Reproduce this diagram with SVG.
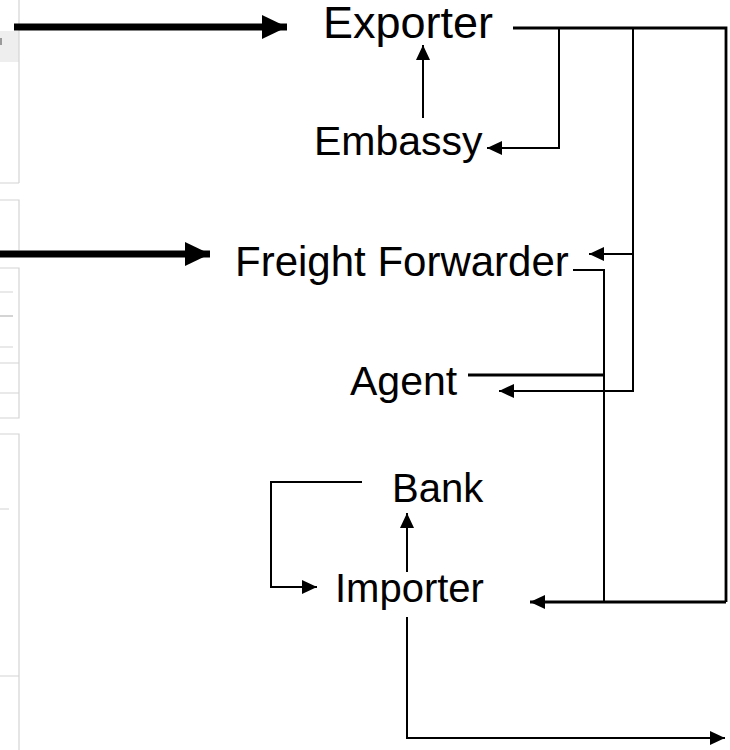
<svg xmlns="http://www.w3.org/2000/svg" width="730" height="750" viewBox="0 0 730 750">
<defs>
<style>
.lbl{font-family:"Liberation Sans",Arial,sans-serif;font-size:41px;fill:#000}
.c{fill:none;stroke:#000;stroke-width:2}
.c3{fill:none;stroke:#000;stroke-width:2.8}
.thick{fill:none;stroke:#000;stroke-width:7}
.ui{fill:none;stroke:#d4d4d4;stroke-width:1.2}
</style>
<marker id="ah" markerUnits="userSpaceOnUse" markerWidth="15" markerHeight="14" refX="15" refY="7" orient="auto">
<path d="M0,0 L15,7 L0,14 z" fill="#000"/>
</marker>
<marker id="bh" markerUnits="userSpaceOnUse" markerWidth="25" markerHeight="24" refX="25" refY="12" orient="auto">
<path d="M0,0 L25,12 L0,24 z" fill="#000"/>
</marker>
</defs>
<rect width="730" height="750" fill="#fff"/>
<g id="ui-remnants">
<rect x="0" y="31" width="19" height="31" fill="#eeeeee"/>
<rect x="0" y="38" width="2" height="7" fill="#9a9a9a"/>
<path class="ui" d="M19,0 V183 M0,183 H19 M0,200 H19 V250 M0,268 H19 V418 H0 M0,363 H19 M0,393 H19 M0,434 H19 V750 M0,676 H19"/>
<path class="ui" d="M0,292 H13 M0,347 H13 M0,509 H9"/>
<path d="M0,316 H13" stroke="#b8b8b8" stroke-width="1.2"/>
</g>
<g id="connectors">
<path class="thick" d="M14,27 H287" marker-end="url(#bh)"/>
<path class="thick" d="M0,254 H210" marker-end="url(#bh)"/>
<path class="c3" d="M513,28 H726 V602"/>
<path class="c3" d="M726,602 H530" marker-end="url(#ah)"/>
<path class="c" d="M559,28 V148 H487" marker-end="url(#ah)"/>
<path class="c" d="M633,28 V254 H589" marker-end="url(#ah)"/>
<path class="c" d="M633,254 V391 H499" marker-end="url(#ah)"/>
<path class="c" d="M573,270 H604 V602"/>
<path class="c3" d="M468,375 H604"/>
<path class="c" d="M423,118 V45" marker-end="url(#ah)"/>
<path class="c" d="M362,482 H271 V587 H317" marker-end="url(#ah)"/>
<path class="c" d="M407,572 V513" marker-end="url(#ah)"/>
<path class="c" d="M407,617 V738 H725" marker-end="url(#ah)"/>
</g>
<g id="exporter"><text class="lbl" x="323" y="38" style="font-size:45px">Exporter</text></g>
<g id="embassy"><text class="lbl" x="314" y="155">Embassy</text></g>
<g id="freight-forwarder"><text class="lbl" x="235" y="276" style="font-size:42px">Freight Forwarder</text></g>
<g id="agent"><text class="lbl" x="350" y="395">Agent</text></g>
<g id="bank"><text class="lbl" x="392" y="502" style="font-size:40px">Bank</text></g>
<g id="importer"><text class="lbl" x="335" y="602" style="font-size:40px">Importer</text></g>
</svg>
